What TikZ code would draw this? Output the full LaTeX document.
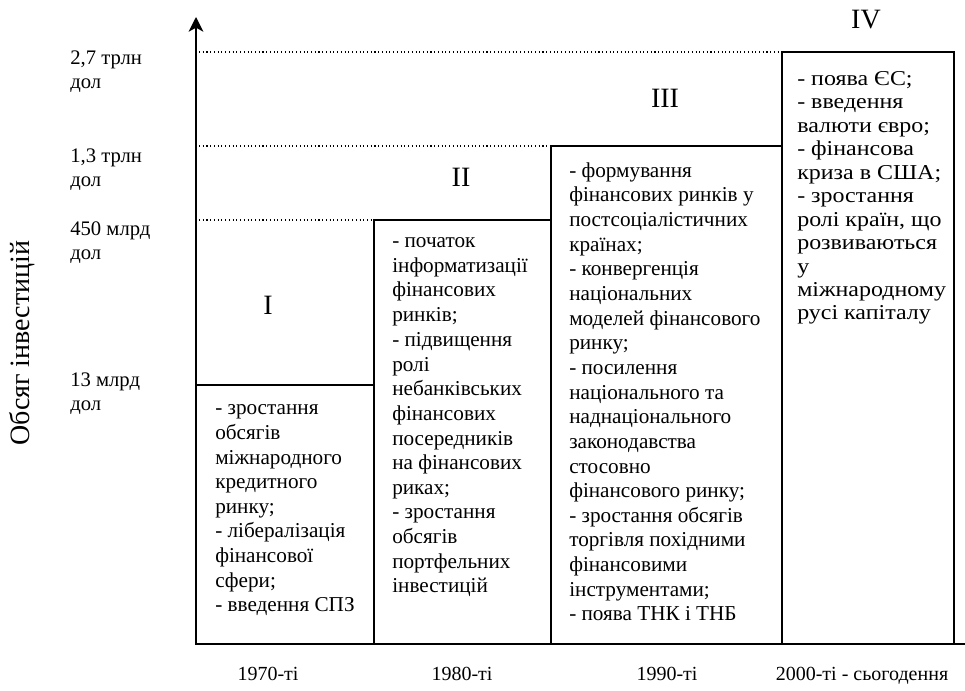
\documentclass[tikz,border=0pt]{standalone}
\usepackage{fontspec}
\setmainfont{Liberation Serif}
\newfontfamily\widefont[FakeStretch=1.13]{Liberation Serif}
\usetikzlibrary{arrows.meta}

\begin{document}
\begin{tikzpicture}[x=0.75pt,y=-0.75pt,
  frame/.style={line width=1.5pt},
  guide/.style={dotted,line width=0.8pt},
  txt/.style={anchor=base west,align=left,inner sep=0pt,font=\fontsize{15.9}{18.5}\selectfont},
  level/.style={anchor=base west,align=left,inner sep=0pt,font=\fontsize{15.5}{18}\selectfont},
  era/.style={inner sep=0pt,font=\fontsize{21}{24}\selectfont},
  period/.style={anchor=base,inner sep=0pt,font=\fontsize{15}{18}\selectfont}]

\useasboundingbox (0,0) rectangle (965,691);

% axes
\coordinate (O) at (196,644);
\coordinate (Ytop) at (196,17);
\coordinate (Xend) at (972,644);
\draw[frame,-{Stealth[length=11pt,width=11pt,inset=3pt]}] (O) -- (Ytop);
\draw[line width=1.5pt,-{To[length=5pt,width=10pt]}] (O) -- (Xend);

% periods
\coordinate (b1) at (196,385);
\coordinate (b2) at (374,220);
\coordinate (b3) at (551,146);
\coordinate (b4) at (782,52);
\draw[frame] (b1) rectangle (374,644);
\draw[frame] (b2) rectangle (551,644);
\draw[frame] (b3) rectangle (782,644);
\draw[frame] (b4) rectangle (954,644);

\draw[guide] (199,220) -- (b2);
\draw[guide] (199,146) -- (b3);
\draw[guide] (199,52) -- (b4);

% base = last line
\node[level] (v1) at (70,89) {2,7 трлн\\дол};
\node[level] (v2) at (70,187) {1,3 трлн\\дол};
\node[level] (v3) at (70,260) {450 млрд\\дол};
\node[level] (v4) at (70,411) {13 млрд\\дол};

\node[rotate=90,font=\fontsize{21}{24}\selectfont] (ylab) at (22,343) {Обсяг інвестицій};

\node[era] (e1) at (268,305) {I};
\node[era] (e2) at (461,177) {II};
\node[era] (e3) at (665,98) {III};
\node[era] (e4) at (866,20) {IV};

\node[txt] (t1) at (215,612) {- зростання\\обсягів\\міжнародного\\кредитного\\ринку;\\- лібералізація\\фінансової\\сфери;\\- введення СПЗ};
\node[txt] (t2) at (392,593) {- початок\\інформатизації\\фінансових\\ринків;\\- підвищення\\ролі\\небанківських\\фінансових\\посередників\\на фінансових\\риках;\\- зростання\\обсягів\\портфельних\\інвестицій};
\node[txt] (t3) at (569,621) {- формування\\фінансових ринків у\\постсоціалістичних\\країнах;\\- конвергенція\\національних\\моделей фінансового\\ринку;\\- посилення\\національного та\\наднаціонального\\законодавства\\стосовно\\фінансового ринку;\\- зростання обсягів\\торгівля похідними\\фінансовими\\інструментами;\\- поява ТНК і ТНБ};
\node[txt,font=\widefont\fontsize{15.9}{17.6}\selectfont] (t4) at (797,320) {- поява ЄС;\\- введення\\валюти євро;\\- фінансова\\криза в США;\\- зростання\\ролі країн, що\\розвиваються\\у\\міжнародному\\русі капіталу};

\node[period] (p1) at (268,681) {1970-ті};
\node[period] (p2) at (462,681) {1980-ті};
\node[period] (p3) at (667,681) {1990-ті};
\node[period] (p4) at (862,681) {2000-ті - сьогодення};

\end{tikzpicture}
\end{document}
